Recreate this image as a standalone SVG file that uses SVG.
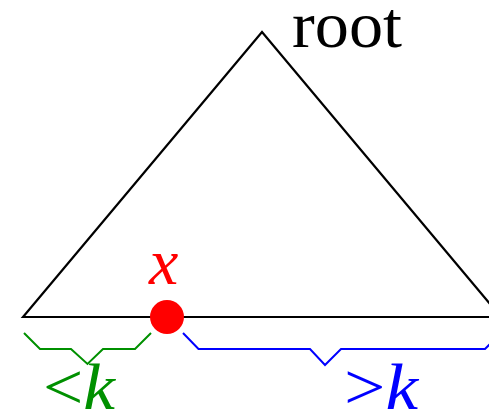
<svg xmlns="http://www.w3.org/2000/svg" width="489" height="414" viewBox="0 0 489 414">
<style>
.t{font-family:"Liberation Serif","Times New Roman",serif;font-size:66px}
.i{font-style:italic}
.br{fill:none;stroke-width:2;stroke-linejoin:miter}
</style>
<rect width="489" height="414" fill="#fff"/>
<g id="tree">
<polygon points="23,317 262,32 501,317" fill="none" stroke="#000" stroke-width="2.2"/>
<text class="t" x="292" y="47" textLength="110" lengthAdjust="spacingAndGlyphs">root</text>
</g>
<g id="connectors">
<polyline class="br" stroke="#009000" points="24,333 40,349 71,349 87.5,364 103,349 135,349 151,333"/>
<polyline class="br" stroke="#0000ff" points="183,333 198.5,349 310,349 325,365 341,349 485,349 501,333"/>
</g>
<g id="x">
<circle cx="167" cy="317" r="17" fill="#ff0000"/>
<text class="t i" x="149" y="284" fill="#ff0000">x</text>
</g>
<g id="lessk">
<text class="t" x="43" y="409" fill="#009000" textLength="72" lengthAdjust="spacingAndGlyphs">&lt;<tspan class="i">k</tspan></text>
</g>
<g id="greaterk">
<text class="t" x="344" y="409" fill="#0000ff" textLength="74" lengthAdjust="spacingAndGlyphs">&gt;<tspan class="i">k</tspan></text>
</g>
</svg>
